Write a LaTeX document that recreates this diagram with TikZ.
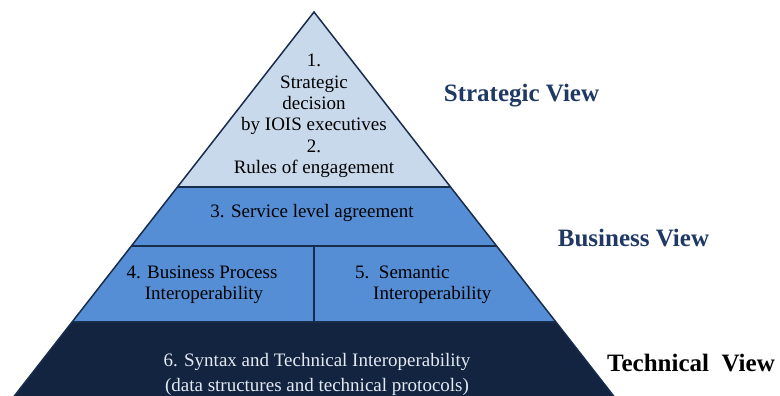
\documentclass[tikz,border=0pt]{standalone}
\usepackage{fontspec}
\setmainfont{Liberation Serif}
\usepackage{xcolor}
\usetikzlibrary{positioning}
\definecolor{paleblue}{RGB}{201,217,236}
\definecolor{midblue}{RGB}{85,142,213}
\definecolor{navyband}{RGB}{18,36,64}
\definecolor{edgeblue}{RGB}{24,44,76}
\definecolor{viewblue}{RGB}{31,56,100}
\definecolor{paletext}{RGB}{228,233,242}

\begin{document}
\begin{tikzpicture}[x=1pt,y=1pt,yscale=-1,xscale=1,
  bandtext/.style={inner sep=0pt,align=center,font=\fontsize{19}{21.3}\selectfont},
  viewtext/.style={inner sep=0pt,font=\fontsize{25}{28}\selectfont\bfseries}]
\useasboundingbox (0,0) rectangle (780,396);

%Shape: top band
\fill [paleblue] (314,12) -- (450.5,187) -- (177.5,187) -- cycle ;
%Shape: middle bands
\fill [midblue] (177.5,187) -- (450.5,187) -- (555.8,322) -- (72.2,322) -- cycle ;
%Shape: bottom band
\fill [navyband] (72.2,322) -- (555.8,322) -- (616,399) -- (12,399) -- cycle ;

%Straight Lines: outline
\draw [color=edgeblue ][line width=1.5]  (12,399) -- (314,12) -- (616,399) ;
%Straight Lines: band borders
\draw [color=edgeblue ][line width=1.5]  (177.5,187) -- (450.5,187) ;
\draw [color=edgeblue ][line width=1.5]  (131.5,246) -- (496.5,246) ;
\draw [color=edgeblue ][line width=1.5]  (72.2,322) -- (555.8,322) ;
\draw [color=edgeblue ][line width=1.5]  (314,246) -- (314,322) ;

% Text Node
\draw (314,116) node [bandtext] (strat) {1.\\Strategic\\decision\\by IOIS executives\\2.\\Rules of engagement};
% Text Node
\draw (312,213) node [bandtext] (sla) {3. Service level agreement};
% Text Node
\draw (202,284.5) node [bandtext] (bpi) {4. Business Process\\\hspace*{4pt}Interoperability};
% Text Node
\draw (355,284.5) node [bandtext,anchor=west,align=left] (sem) {5.\ \ Semantic\\\hspace*{18pt}Interoperability};
% Text Node
\draw (317,374) node [bandtext,color=paletext,font=\fontsize{19}{25}\selectfont] (tech) {6. Syntax and Technical Interoperability\\(data structures and technical protocols)};

% Text Node
\draw (521.5,96) node [viewtext,color=viewblue] (sview) {Strategic View};
% Text Node
\draw (633.5,238) node [viewtext,color=viewblue] (bview) {Business View};
% Text Node
\draw (691,363) node [viewtext,color=black] (tview) {Technical\ \ View};

\end{tikzpicture}
\end{document}
